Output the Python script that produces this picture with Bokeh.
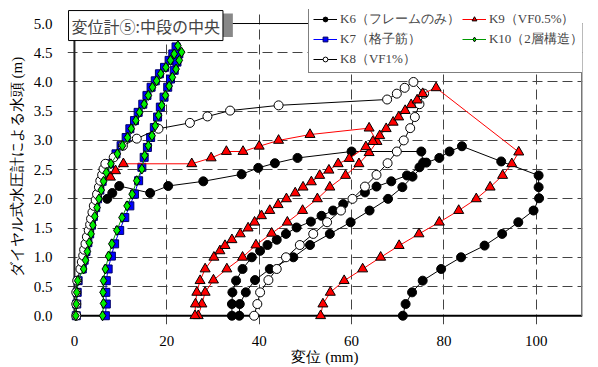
from bokeh.plotting import figure
from bokeh.models import Range1d, FixedTicker, Label, Legend, LegendItem, BoxAnnotation, CustomJSTickFormatter
from bokeh.embed import file_html
from bokeh.resources import INLINE

# ---- data ----
x_ticks = [0, 20, 40, 60, 80, 100]
y_ticks = [0.0, 0.5, 1.0, 1.5, 2.0, 2.5, 3.0, 3.5, 4.0, 4.5, 5.0]

k6_x = [7.1, 8.2, 9.7, 16.4, 20.3, 27.9, 36.2, 39.8, 43.4, 48.3, 60.0, 75.1,
        75.5, 74.7, 72.0, 68.6, 65.4, 62.9, 58.2, 56.0, 53.5, 51.2, 48.1, 45.8, 43.8, 41.8, 40.2, 38.4, 36.4, 35.0, 34.2, 34.1, 34.1,
        35.7, 35.8, 37.1, 39.1, 42.3, 47.4, 51.0, 55.3, 59.8, 63.9, 67.9, 71.0, 73.2, 76.2,
        79.0, 81.2, 83.9, 92.4, 100.5, 100.5, 100.6, 99.4, 96.1, 92.6, 88.8, 83.7, 79.4, 75.4, 73.1, 71.7, 71.1]
k6_y = [2.0, 2.1, 2.22, 2.1, 2.22, 2.3, 2.42, 2.53, 2.61, 2.7, 2.81, 2.81,
        2.62, 2.54, 2.4, 2.3, 2.21, 2.11, 1.91, 1.8, 1.71, 1.61, 1.51, 1.4, 1.3, 1.21, 1.11, 1.0, 0.8, 0.6, 0.4, 0.2, 0.0,
        0.0, 0.2, 0.4, 0.61, 0.8, 1.0, 1.21, 1.4, 1.6, 1.8, 2.0, 2.2, 2.38, 2.62,
        2.7, 2.81, 2.9, 2.64, 2.4, 2.2, 2.01, 1.8, 1.6, 1.4, 1.2, 1.0, 0.8, 0.6, 0.4, 0.2, 0.0]

k7_x = [0.4, 0.5, 0.6, 0.8, 1.7, 2.1, 2.5, 2.9, 3.3, 3.7, 4.1, 4.6, 5.0, 5.5, 6.0, 6.6, 7.6, 9.0, 10.1, 11.2, 12.0,
        13.0, 13.8, 14.8, 15.7, 16.6, 17.5, 18.4, 19.5, 20.5, 21.3, 22.0,
        22.6, 22.2, 21.6, 20.8, 20.2, 19.4, 18.6, 18.0, 17.3, 16.5, 15.8, 15.1, 14.6, 13.9, 13.0, 12.0, 10.9, 9.8, 8.7,
        8.0, 7.3, 6.9, 6.8, 6.9, 6.7]
k7_y = [0.0, 0.2, 0.4, 0.6, 0.8, 0.95, 1.1, 1.25, 1.4, 1.55, 1.7, 1.85, 2.0, 2.15, 2.3, 2.45, 2.6, 2.77, 2.91, 3.05, 3.2,
        3.34, 3.48, 3.62, 3.77, 3.91, 4.02, 4.14, 4.25, 4.37, 4.48, 4.6,
        4.48, 4.34, 4.2, 4.05, 3.91, 3.74, 3.57, 3.4, 3.22, 3.05, 2.88, 2.71, 2.54, 2.31, 2.08, 1.88, 1.68, 1.46, 1.23,
        1.02, 0.8, 0.6, 0.4, 0.2, 0.0]

k8_x = [0.4, 0.4, 0.4, 0.6, 1.3, 1.6, 1.9, 2.1, 2.4, 2.7, 3.1, 3.4, 3.6, 3.9, 4.2, 4.6, 4.9, 5.3, 5.6, 6.0, 6.3, 6.7,
        8.5, 10.5, 13.5, 18.2, 25.0, 28.8, 33.7, 44.2, 67.7, 69.8, 71.5, 73.4,
        75.7, 74.7, 73.7, 72.7, 71.3, 69.8, 67.8, 65.4, 62.9, 60.2, 57.7, 54.7, 51.7, 48.8, 45.8, 43.8, 42.0, 40.2, 39.6, 38.9]
k8_y = [0.0, 0.2, 0.4, 0.6, 0.8, 0.92, 1.03, 1.13, 1.23, 1.35, 1.46, 1.56, 1.66, 1.77, 1.88, 1.98, 2.08, 2.2, 2.31, 2.41, 2.51, 2.6,
        2.71, 2.91, 3.03, 3.2, 3.3, 3.41, 3.51, 3.6, 3.7, 3.8, 3.9, 4.0,
        3.8, 3.62, 3.4, 3.21, 3.0, 2.81, 2.61, 2.41, 2.21, 2.0, 1.8, 1.6, 1.4, 1.21, 1.0, 0.8, 0.61, 0.4, 0.2, 0.0]

k9_x = [7.8, 8.9, 10.6, 25.4, 29.6, 32.9, 36.5, 40.0, 44.2, 51.0, 63.8,
        65.5, 63.8, 61.6, 58.7, 55.3, 52.6, 49.4, 46.1, 42.7, 39.3, 36.4, 33.0, 30.1, 28.3, 27.6, 26.8,
        26.1, 26.2, 26.5, 27.2, 28.3, 30.2, 31.5, 32.6, 34.1, 35.9, 37.6, 39.0, 40.5, 42.3, 44.1, 45.9, 47.8, 49.5,
        51.3, 53.1, 55.1, 57.1, 59.5, 63.1, 64.6, 66.1, 67.5, 69.0, 70.2, 71.6, 72.9, 74.2, 75.4, 78.3,
        96.2, 94.7, 92.7, 90.0, 87.0, 83.2, 79.0, 74.6, 70.3, 66.3, 62.4, 58.4, 55.4, 53.8, 53.3]
k9_y = [2.37, 2.48, 2.6, 2.6, 2.7, 2.81, 2.81, 2.9, 3.0, 3.1, 3.21,
        2.98, 2.79, 2.6, 2.4, 2.2, 2.0, 1.8, 1.6, 1.41, 1.21, 1.0, 0.8, 0.61, 0.4, 0.2, 0.0,
        0.0, 0.2, 0.4, 0.6, 0.8, 1.0, 1.11, 1.2, 1.3, 1.4, 1.5, 1.6, 1.71, 1.8, 1.9, 2.0, 2.1, 2.2,
        2.29, 2.4, 2.49, 2.6, 2.69, 2.89, 2.98, 3.08, 3.2, 3.31, 3.4, 3.51, 3.61, 3.69, 3.8, 3.9,
        2.8, 2.6, 2.4, 2.2, 2.0, 1.8, 1.6, 1.4, 1.2, 1.0, 0.8, 0.6, 0.4, 0.2, 0.0]

k10_x = [0.3, 0.4, 0.5, 0.7, 2.0, 2.4, 2.8, 3.2, 3.6, 4.0, 4.4, 4.9, 5.3, 5.8, 6.3, 6.9, 7.9, 9.3, 10.4, 11.5, 12.3,
         13.3, 14.1, 15.1, 16.0, 16.9, 17.8, 18.7, 19.8, 20.8, 21.6, 22.4,
         23.2, 22.7, 22.0, 21.2, 20.5, 19.7, 18.9, 18.2, 17.5, 16.8, 16.0, 15.2, 14.6, 13.5, 12.5, 11.4, 10.3, 9.2, 8.1,
         7.4, 6.7, 6.3, 6.2, 6.3, 6.1]
k10_y = [0.0, 0.2, 0.4, 0.6, 0.8, 0.95, 1.1, 1.25, 1.4, 1.55, 1.7, 1.85, 2.0, 2.15, 2.3, 2.45, 2.6, 2.77, 2.91, 3.05, 3.2,
         3.34, 3.48, 3.62, 3.77, 3.91, 4.02, 4.14, 4.25, 4.37, 4.48, 4.62,
         4.51, 4.37, 4.22, 4.08, 3.93, 3.77, 3.6, 3.43, 3.25, 3.08, 2.91, 2.74, 2.51, 2.31, 2.08, 1.88, 1.68, 1.46, 1.23,
         1.02, 0.8, 0.6, 0.4, 0.21, 0.0]

labels = ["K6（フレームのみ）", "K7（格子筋）", "K8（VF1%）", "K9（VF0.5%）", "K10（2層構造）"]
title_text = "変位計⑤:中段の中央"
x_label = "変位 (mm)"
y_label = "ダイヤル式水圧計による水頭 (m)"

SERIF = "Liberation Serif"
SANS = "Noto Sans CJK JP"

p = figure(width=598, height=367, x_range=Range1d(-1.5, 110), y_range=Range1d(-0.15, 5.24),
           output_backend="svg", toolbar_location=None,
           min_border_left=67, min_border_right=16, min_border_top=9, min_border_bottom=43)
p.background_fill_color = "white"
p.border_fill_color = "white"
p.outline_line_color = None

# axes
for ax in (p.xaxis[0], p.yaxis[0]):
    ax.axis_line_color = None
    ax.major_tick_line_color = None
    ax.minor_tick_line_color = None
    ax.major_label_text_font = SERIF
    ax.major_label_text_font_size = "15px"
    ax.major_label_text_color = "black"
    ax.axis_label_text_font = SERIF
    ax.axis_label_text_font_size = "15px"
    ax.axis_label_text_font_style = "normal"
    ax.axis_label_text_color = "black"
p.xaxis.ticker = FixedTicker(ticks=x_ticks)
p.yaxis.ticker = FixedTicker(ticks=y_ticks)
p.yaxis.formatter = CustomJSTickFormatter(code="return tick.toFixed(1);")
p.xaxis.major_label_standoff = 5
p.yaxis.major_label_standoff = 9
p.xaxis.axis_label = x_label
p.yaxis.axis_label = y_label
p.xaxis.axis_label_standoff = 0
p.yaxis.axis_label_standoff = 6

# grid
p.xgrid.ticker = FixedTicker(ticks=x_ticks[1:])
p.ygrid.ticker = FixedTicker(ticks=y_ticks[1:-1])
for g in (p.xgrid[0], p.ygrid[0]):
    g.grid_line_color = "#444444"
    g.grid_line_dash = "10 5"
    g.grid_line_width = 1

# frame lines (axis at 0, top and right border)
p.segment(x0=[0], y0=[0], x1=[0], y1=[5.0], line_color="#222222", line_width=2)
p.segment(x0=[0], y0=[0], x1=[110], y1=[0], line_color="black", line_width=2)
p.segment(x0=[0], y0=[5.0], x1=[110], y1=[5.0], line_color="black", line_width=1)
p.segment(x0=[110], y0=[0], x1=[110], y1=[5.0], line_color="#777777", line_width=3)

items = []
r = p.line(k6_x, k6_y, line_color="black", line_width=1)
m = p.scatter(k6_x, k6_y, marker="circle", size=9, fill_color="black", line_color="black")
items.append(LegendItem(label=labels[0], renderers=[r, m]))
r = p.line(k7_x, k7_y, line_color="blue", line_width=1)
m = p.scatter(k7_x, k7_y, marker="square", size=8, fill_color="blue", line_color="#000066")
items.append(LegendItem(label=labels[1], renderers=[r, m]))
r = p.line(k8_x, k8_y, line_color="black", line_width=1)
m = p.scatter(k8_x, k8_y, marker="circle", size=9, fill_color="white", line_color="black")
items.append(LegendItem(label=labels[2], renderers=[r, m]))
r = p.line(k9_x, k9_y, line_color="red", line_width=1)
m = p.scatter(k9_x, k9_y, marker="triangle", size=10, fill_color="red", line_color="black")
items.append(LegendItem(label=labels[3], renderers=[r, m]))
r = p.line(k10_x, k10_y, line_color="#009900", line_width=1)
m = p.scatter(k10_x, k10_y, marker="diamond", size=10, fill_color="#00ee00", line_color="black")
items.append(LegendItem(label=labels[4], renderers=[r, m]))

legend = Legend(items=items, location=(241, 251), orientation="vertical", nrows=3,
                label_text_font=SERIF, label_text_font_size="13px",
                glyph_width=24, glyph_height=12, label_standoff=3, spacing=2,
                padding=4, margin=0, border_line_color="black", border_line_width=1,
                background_fill_color="white", background_fill_alpha=1.0)
p.add_layout(legend, "center")

# title box with shadow
p.add_layout(BoxAnnotation(left=-0.6, right=34.3, bottom=4.77, top=5.17, fill_color="#888888",
                           fill_alpha=1.0, line_color=None))
p.add_layout(Label(x=-1.28, y=5.222, text=title_text, text_font=SANS, text_font_size="16px",
                   text_align="left", text_baseline="top", background_fill_color="white",
                   background_fill_alpha=1.0, border_line_color="black", border_line_width=1,
                   padding=3))

open("out.html", "w").write(file_html(p, INLINE))
